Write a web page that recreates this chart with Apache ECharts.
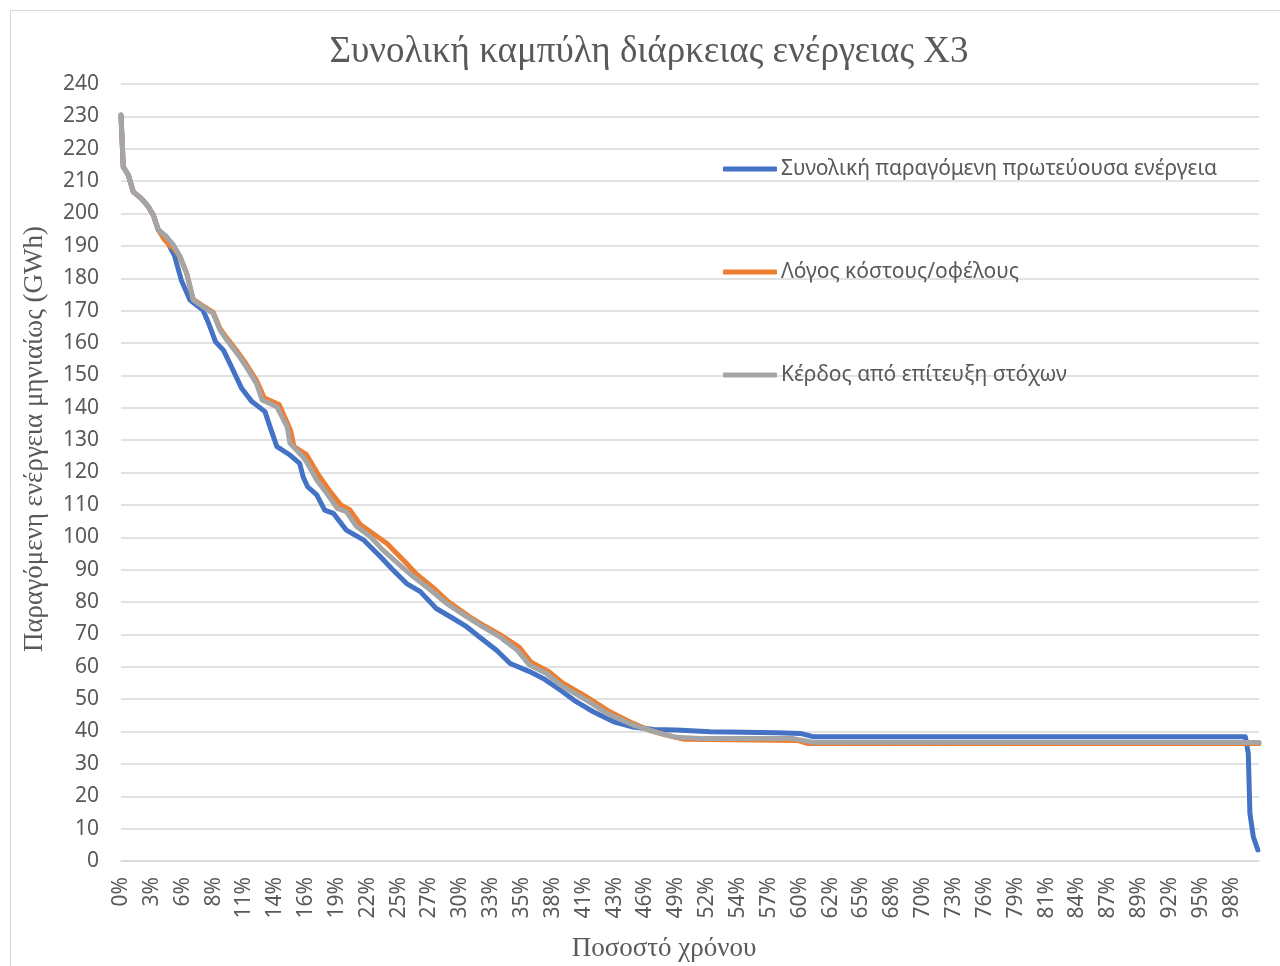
<!DOCTYPE html>
<html>
<head>
<meta charset="utf-8">
<script src="https://cdn.jsdelivr.net/npm/echarts@6/dist/echarts.min.js"></script>
<style>html,body{margin:0;padding:0;background:#fff;}#c{width:1280px;height:966px;}</style>
</head>
<body>
<div id="c"></div>
<script>
const titleText = 'Συνολική καμπύλη διάρκειας ενέργειας Χ3';
const xAxisTitle = 'Ποσοστό χρόνου';
const yAxisTitle = 'Παραγόμενη ενέργεια μηνιαίως (GWh)';
const seriesNames = ['Συνολική παραγόμενη πρωτεύουσα ενέργεια', 'Λόγος κόστους/οφέλους', 'Κέρδος από επίτευξη στόχων'];
const xTickLabels = ['0%','3%','6%','8%','11%','14%','16%','19%','22%','25%','27%','30%','33%','35%','38%','41%','43%','46%','49%','52%','54%','57%','60%','62%','65%','68%','70%','73%','76%','79%','81%','84%','87%','89%','92%','95%','98%'];
const xTickStep = 2.711;

const blueX = [0,0.2,0.64,1.08,1.8,2.4,2.84,3.28,4.0,4.3,4.7,5.3,6.06,7.2,7.7,8.3,9.0,9.7,10.6,11.5,12.65,13.2,13.7,14.85,15.7,16.0,16.4,17.2,17.9,18.66,19.8,21.3,22.8,23.9,25.1,26.3,27.7,29.2,30.4,31.5,33.0,34.2,35.9,37.1,38.6,40.0,41.5,43.3,45.0,46.8,48.8,51.8,57.6,59.7,60.8,98.8,99.06,99.2,99.5,99.9];
const blueY = [230.4,214.4,211.9,206.7,204.6,202.1,199.5,194.9,192.8,189.7,187,179.4,173.3,170.2,166.1,160.4,157.8,152.7,146.0,141.9,138.8,133,128.0,125.4,122.8,118.7,115.6,113.1,108.4,107.4,102.2,99.2,94.0,89.9,85.7,83.2,78.0,74.9,72.3,69.2,65.1,61.0,58.5,56.4,52.8,49.2,46.1,43.0,41.4,40.6,40.5,39.9,39.6,39.4,38.4,38.4,33.2,14.7,7.5,3.4];

const orangeX = [0,0.2,0.64,1.08,1.8,2.4,2.84,3.28,3.8,4.3,4.6,5.2,5.77,6.35,7.2,8.1,8.7,9.3,10.2,11.0,11.9,12.6,13.9,14.4,14.9,15.2,16.3,17.4,18.4,19.3,20.1,21.0,22.2,23.4,24.8,26.0,27.4,28.8,30.6,32.0,33.5,35.0,36.0,37.6,38.8,41.0,43.0,45.0,46.5,48.0,49.5,59.5,60.3,100];
const orangeY = [230,214.4,211.9,206.7,204.6,202.1,199.5,194.9,192,190,189.5,186.5,181.5,173.5,171.5,169.5,164.5,161.5,157.5,153.5,148.5,143,141,137,133,128,125.5,119,114,110,108.5,104,101,98,93,88.5,84.5,80,75.5,72.5,69.5,66,61.5,58.5,55,50.5,46,42.5,40.3,38.8,37.6,37.2,36.3,36.3];

const grayX = [0,0.2,0.64,1.08,1.8,2.4,2.84,3.28,4.0,4.6,5.2,5.77,6.35,7.2,8.1,8.7,9.3,10.2,11.0,11.9,12.4,13.7,14.6,14.85,16.0,16.3,17.2,18.1,19.0,19.8,20.7,21.9,23.0,24.5,25.7,27.2,28.6,30.4,31.8,33.3,34.8,35.9,37.4,38.6,40.9,42.7,45.0,47.4,48.8,51.2,59.1,60.8,100];
const grayY = [230.4,214.4,211.9,206.7,204.6,202.1,199.5,194.9,192.8,190.3,186.7,181.5,173.3,171.2,169.1,164.0,160.9,156.8,152.7,147.5,142.4,140.3,134.1,129.0,124.8,123.3,117.7,113.5,108.9,107.9,103.3,100.2,96.1,91.4,87.8,83.7,79.6,75.4,72.3,69.2,65.2,60.5,57.9,54.4,49.7,45.6,42.0,39.4,38.2,37.8,37.8,36.7,36.6];

const colors = ['#4472C4', '#ED7D31', '#A5A5A5'];
const pairs = (xs, ys) => xs.map((x, i) => [x, ys[i]]);
const seriesData = [pairs(blueX, blueY), pairs(orangeX, orangeY), pairs(grayX, grayY)];

const sans = '"Noto Sans", "Liberation Sans", sans-serif';
const serif = '"Liberation Serif", "DejaVu Serif", serif';
const txt = '#595959';

const chart = echarts.init(document.getElementById('c'), null, {renderer: 'canvas'});
chart.setOption({
  animation: false,
  backgroundColor: '#fff',
  color: colors,
  graphic: [
    {type: 'rect', shape: {x: 10.5, y: 10.5, width: 1300, height: 1000}, style: {fill: 'none', stroke: '#d9d9d9', lineWidth: 1}, silent: true},
    {type: 'text', x: 649, y: 52,
      style: {text: titleText, fontFamily: serif, fontSize: 37, fill: txt, align: 'center', verticalAlign: 'middle'}},
    {type: 'text', x: 35, y: 439, rotation: Math.PI / 2,
      style: {text: yAxisTitle, fontFamily: serif, fontSize: 27, fill: txt, align: 'center', verticalAlign: 'middle'}},
    {type: 'text', x: 664, y: 949,
      style: {text: xAxisTitle, fontFamily: serif, fontSize: 27, fill: txt, align: 'center', verticalAlign: 'middle'}}
  ],
  legend: {
    orient: 'vertical', left: 718, top: 152,
    itemWidth: 54, itemHeight: 5, itemGap: 79, icon: 'roundRect',
    textStyle: {fontFamily: sans, fontSize: 21, color: txt, lineHeight: 24, padding: [0, 0, 0, -1]},
    data: seriesNames
  },
  grid: {left: 121, right: 21, top: 84, bottom: 105, containLabel: false},
  xAxis: {
    type: 'value', min: 0, max: 100, interval: xTickStep,
    axisLine: {show: true, lineStyle: {color: '#d9d9d9', width: 1.5}},
    axisTick: {show: false},
    splitLine: {show: false},
    axisLabel: {
      rotate: 90, margin: 16, color: txt, fontFamily: sans, fontSize: 21,
      showMaxLabel: false,
      formatter: v => { const i = Math.round(v / xTickStep); return xTickLabels[i] !== undefined ? xTickLabels[i] : ''; }
    }
  },
  yAxis: {
    type: 'value', min: 0, max: 240, interval: 10,
    axisLine: {show: false}, axisTick: {show: false},
    splitLine: {show: true, lineStyle: {color: '#d9d9d9', width: 1.5}},
    axisLabel: {margin: 22, color: txt, fontFamily: sans, fontSize: 21}
  },
  series: seriesNames.map((n, i) => ({
    name: n, type: 'line', data: seriesData[i], showSymbol: false, symbol: 'none',
    lineStyle: {width: 5, color: colors[i], cap: 'round', join: 'round'},
    itemStyle: {color: colors[i]}
  }))
});
</script>
</body>
</html>
